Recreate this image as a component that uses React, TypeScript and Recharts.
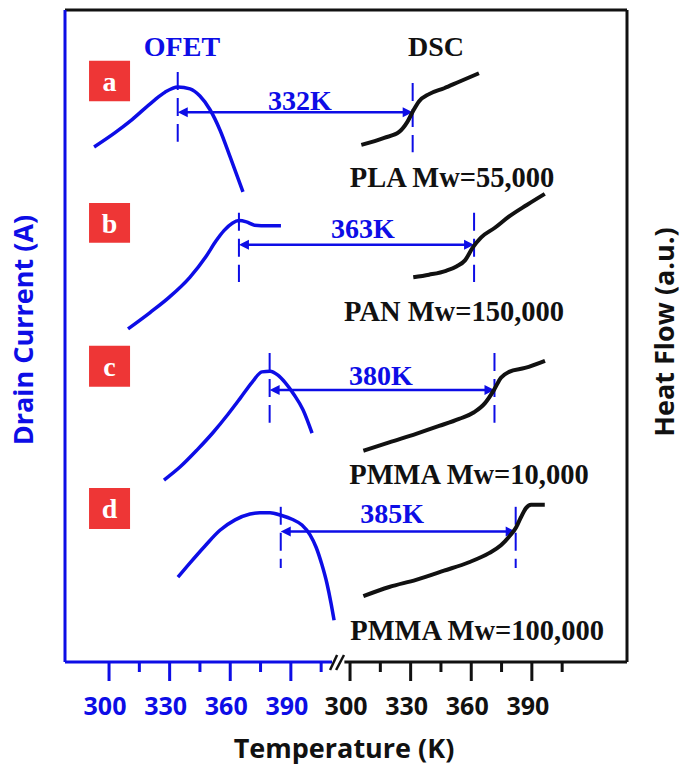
import React from 'react';
import {
  ComposedChart,
  Line,
  XAxis,
  YAxis,
  ReferenceLine,
  ReferenceArea,
  ReferenceDot,
} from 'recharts';

const BLUE = '#0d0de6';
const BLACK = '#111111';
const RED = '#ee3636';
const SERIF = '"Liberation Serif", "Times New Roman", serif';
const SANS = '"Open Sans", sans-serif';

// temperature axes (K); the DSC axis is the OFET axis moved past the break
const ofetDomain = [278.2, 556.4];
const AXIS_SHIFT = 119.3;
const dscDomain = [ofetDomain[0] - AXIS_SHIFT, ofetDomain[1] - AXIS_SHIFT];
const tempTicks = [300, 315, 330, 345, 360, 375, 390, 405];
const tempLabels = [300, 330, 360, 390];

// both y axes in arbitrary units (0..100), no labels
const currentTicks = [11, 20.4, 29.8, 39.2, 48.5, 57.9, 69, 79.8, 90.8];
const heatTicks = [7.9, 15.6, 23.4, 29.9, 37.6, 45.4, 53.1, 62.6, 70.5, 78.3, 86.1, 93.9];

// OFET drain current (left axis)
const ofetTempA = [292.6, 303.0, 311.4, 321.8, 327.7, 334.1, 340.1, 345.0, 350.0, 354.9, 359.9, 366.3];
const ofetCurA = [79.0, 81.2, 83.2, 86.0, 87.4, 88.2, 87.9, 86.8, 84.7, 81.6, 77.5, 72.1];
const ofetTempB = [309.4, 320.3, 330.0, 340.0, 348.0, 353.0, 357.0, 361.0, 364.3, 368.0, 372.0, 378.7, 385.1];
const ofetCurB = [51.1, 53.6, 56.0, 59.0, 62.2, 64.6, 66.2, 67.3, 67.7, 67.5, 67.0, 66.9, 66.9];
const ofetTempC = [327.2, 335.1, 343.5, 351.5, 358.9, 364.8, 370.8, 375.7, 379.7, 383.6, 387.1, 391.6, 396.0, 400.5];
const ofetCurC = [27.9, 29.9, 32.5, 35.2, 38.0, 40.4, 42.9, 44.5, 44.6, 44.0, 42.9, 41.0, 38.7, 35.1];
const ofetTempD = [334.1, 340.1, 347.5, 354.9, 362.4, 369.8, 374.7, 379.7, 385.1, 390.6, 395.5, 399.5, 402.5, 405.4, 407.9, 409.9, 411.4];
const ofetCurD = [13.0, 15.2, 17.8, 20.2, 21.8, 22.7, 22.9, 22.9, 22.5, 21.9, 21.0, 19.5, 17.6, 14.9, 12.0, 9.0, 6.4];

// DSC heat flow (right axis)
const dscTempA = [305.6, 316.9, 324.3, 328.3, 331.2, 334.2, 339.1, 346.6, 354.0, 363.8];
const dscHeatA = [79.3, 80.4, 81.3, 82.8, 84.5, 86.0, 87.1, 88.0, 89.0, 90.3];
const dscTempB = [331.3, 339.1, 347.5, 352.9, 356.9, 360.8, 364.8, 371.7, 378.6, 387.5, 396.4];
const dscHeatB = [59.0, 59.4, 60.0, 60.7, 61.6, 63.6, 65.1, 66.6, 68.3, 70.1, 71.8];
const dscTempC = [306.6, 319.4, 332.7, 344.1, 354.0, 361.4, 366.8, 371.2, 374.7, 378.7, 386.6, 396.5];
const dscHeatC = [32.4, 33.7, 35.0, 36.2, 37.3, 38.3, 39.7, 41.7, 43.6, 44.5, 45.1, 46.2];
const dscTempD = [306.6, 319.4, 332.7, 346.5, 358.9, 368.8, 374.7, 378.7, 382.1, 384.6, 387.1, 389.6, 396.4];
const dscHeatD = [10.1, 11.5, 12.6, 14.0, 15.3, 16.7, 17.9, 19.2, 20.6, 22.2, 23.6, 24.1, 24.1];

const panelLetters = ['a', 'b', 'c', 'd'];
const polymers = ['PLA Mw=55,000', 'PAN Mw=150,000', 'PMMA Mw=10,000', 'PMMA Mw=100,000'];
const tgLabels = ['332K', '363K', '380K', '385K'];
const ofetPeakT = [334.0, 364.3, 379.5, 385.0];
const dscTgT = [331.0, 361.4, 371.5, 382.0];

const zip = (t: number[], v: number[]) => t.map((x, i) => ({ t: x, v: v[i] }));
const ofetSeries = [
  zip(ofetTempA, ofetCurA),
  zip(ofetTempB, ofetCurB),
  zip(ofetTempC, ofetCurC),
  zip(ofetTempD, ofetCurD),
];
const dscSeries = [
  zip(dscTempA, dscHeatA),
  zip(dscTempB, dscHeatB),
  zip(dscTempC, dscHeatC),
  zip(dscTempD, dscHeatD),
];

// where the annotations of each panel sit (axis units)
const place = [
  { arrowY: 84.3, ofetDash: [90.5, 79.8], dscDash: [88.8, 78.2], tg: [394.5, 86.2], poly: [350.5, 74.4], box: [92.2, 86.0] },
  { arrowY: 64.0, ofetDash: [68.9, 58.3], dscDash: [68.9, 58.3], tg: [425.7, 66.6], poly: [351.5, 53.8], box: [70.4, 64.3] },
  { arrowY: 41.7, ofetDash: [47.4, 36.7], dscDash: [47.4, 36.7], tg: [434.6, 44.0], poly: [358.9, 28.8], box: [48.5, 42.2] },
  { arrowY: 20.0, ofetDash: [23.8, 14.4], dscDash: [23.8, 14.4], tg: [440.1, 22.9], poly: [362.9, 4.9], box: [26.7, 20.4] },
];

const makeTick = (color: string, shiftY: number) => (p: any) => {
  const v = p.payload.value;
  const major = tempLabels.includes(v);
  const y = p.y + shiftY;
  return (
    <g>
      <line x1={p.x} y1={y} x2={p.x} y2={y + (major ? 19 : 10)} stroke={color} strokeWidth={3} />
      {major && (
        <text x={p.x - 4} y={y + 53} textAnchor="middle" fill={color} fontFamily={SANS} fontWeight={700} fontSize={25}>
          {v}
        </text>
      )}
    </g>
  );
};

const DoubleArrow = (p: any) => {
  const { x1, y1, x2, y2 } = p;
  const h = 10;
  const w = 5;
  return (
    <g>
      <line x1={x1 + h - 1} y1={y1} x2={x2 - h + 1} y2={y2} stroke={BLUE} strokeWidth={2.5} />
      <polygon points={`${x1},${y1} ${x1 + h},${y1 - w} ${x1 + h},${y1 + w}`} fill={BLUE} />
      <polygon points={`${x2},${y2} ${x2 - h},${y2 - w} ${x2 - h},${y2 + w}`} fill={BLUE} />
    </g>
  );
};

const serifLabel = (value: string, fill: string, size = 28) => ({
  value,
  position: 'center' as const,
  fill,
  fontFamily: SERIF,
  fontWeight: 700,
  fontSize: size,
});

export default function App() {
  return (
    <div style={{ position: 'absolute', left: 0, top: 0, background: '#fff' }}>
      <ComposedChart width={685} height={774} margin={{ top: 10, right: 58, bottom: 0, left: 65 }}>
        <XAxis
          xAxisId="ofet"
          type="number"
          dataKey="t"
          domain={ofetDomain}
          allowDataOverflow
          ticks={tempTicks}
          interval={0}
          height={111}
          axisLine={false}
          tickLine={false}
          tickSize={0}
          tickMargin={0}
          tick={makeTick(BLUE, -1)}
          label={{
            value: 'Temperature (K)',
            position: 'insideBottom',
            offset: 16,
            dx: -2,
            fill: BLACK,
            fontFamily: SANS,
            fontWeight: 700,
            fontSize: 27,
          }}
        />
        <XAxis
          xAxisId="dsc"
          type="number"
          dataKey="t"
          domain={dscDomain}
          allowDataOverflow
          ticks={tempTicks}
          interval={0}
          height={1}
          axisLine={false}
          tickLine={false}
          tickSize={0}
          tickMargin={0}
          tick={makeTick(BLACK, 0)}
        />
        <YAxis
          yAxisId="L"
          orientation="left"
          mirror
          width={2}
          type="number"
          domain={[0, 100]}
          allowDataOverflow
          ticks={currentTicks}
          interval={0}
          tick={false}
          tickSize={10}
          axisLine={{ stroke: BLUE, strokeWidth: 3 }}
          tickLine={{ stroke: BLUE, strokeWidth: 3 }}
          label={{
            value: 'Drain Current (A)',
            angle: -90,
            position: 'center',
            dx: -43,
            dy: -6,
            fill: BLUE,
            fontFamily: SANS,
            fontWeight: 700,
            fontSize: 27,
          }}
        />
        <YAxis
          yAxisId="R"
          orientation="right"
          mirror
          width={2}
          type="number"
          domain={[0, 100]}
          allowDataOverflow
          ticks={heatTicks}
          interval={0}
          tick={false}
          tickSize={10}
          axisLine={{ stroke: BLACK, strokeWidth: 3 }}
          tickLine={{ stroke: BLACK, strokeWidth: 3 }}
          label={{
            value: 'Heat Flow (a.u.)',
            angle: -90,
            position: 'center',
            dx: 38,
            dy: -4,
            fill: BLACK,
            fontFamily: SANS,
            fontWeight: 700,
            fontSize: 27,
          }}
        />

        {/* frame: top border, split bottom axis and break mark */}
        <ReferenceLine xAxisId="dsc" yAxisId="R" y={100} stroke={BLACK} strokeWidth={3} />
        <ReferenceLine
          xAxisId="ofet"
          yAxisId="L"
          segment={[{ x: ofetDomain[0], y: 0 }, { x: 410.4, y: 0 }]}
          stroke={BLUE}
          strokeWidth={3}
          ifOverflow="visible"
        />
        <ReferenceLine
          xAxisId="dsc"
          yAxisId="R"
          segment={[{ x: 297.2, y: 0 }, { x: dscDomain[1], y: 0 }]}
          stroke={BLACK}
          strokeWidth={3}
          ifOverflow="visible"
        />
        <ReferenceLine
          xAxisId="ofet"
          yAxisId="L"
          segment={[{ x: 409.4, y: -1.23 }, { x: 412.9, y: 1.07 }]}
          stroke={BLACK}
          strokeWidth={2.5}
          ifOverflow="visible"
        />
        <ReferenceLine
          xAxisId="ofet"
          yAxisId="L"
          segment={[{ x: 412.4, y: -1.23 }, { x: 416.3, y: 1.07 }]}
          stroke={BLACK}
          strokeWidth={2.5}
          ifOverflow="visible"
        />

        <ReferenceDot xAxisId="ofet" yAxisId="L" x={336.1} y={94.5} r={0} fill="none" stroke="none" ifOverflow="visible" label={serifLabel('OFET', BLUE)} />
        <ReferenceDot xAxisId="dsc" yAxisId="R" x={342.6} y={94.5} r={0} fill="none" stroke="none" ifOverflow="visible" label={serifLabel('DSC', BLACK)} />

        {panelLetters.map((letter, i) => (
          <ReferenceArea
            key={`box-${letter}`}
            xAxisId="ofet"
            yAxisId="L"
            x1={290.1}
            x2={310.4}
            y1={place[i].box[1]}
            y2={place[i].box[0]}
            fill={RED}
            fillOpacity={1}
            stroke="none"
            label={serifLabel(letter, '#ffffff')}
          />
        ))}

        {panelLetters.map((letter, i) => (
          <ReferenceLine
            key={`od-${letter}`}
            xAxisId="ofet"
            yAxisId="L"
            segment={[{ x: ofetPeakT[i], y: place[i].ofetDash[0] }, { x: ofetPeakT[i], y: place[i].ofetDash[1] }]}
            stroke={BLUE}
            strokeWidth={2}
            strokeDasharray="18 8"
          />
        ))}
        {panelLetters.map((letter, i) => (
          <ReferenceLine
            key={`dd-${letter}`}
            xAxisId="dsc"
            yAxisId="R"
            segment={[{ x: dscTgT[i], y: place[i].dscDash[0] }, { x: dscTgT[i], y: place[i].dscDash[1] }]}
            stroke={BLUE}
            strokeWidth={2}
            strokeDasharray="18 8"
          />
        ))}
        {panelLetters.map((letter, i) => (
          <ReferenceLine
            key={`ar-${letter}`}
            xAxisId="ofet"
            yAxisId="L"
            segment={[{ x: ofetPeakT[i], y: place[i].arrowY }, { x: dscTgT[i] + AXIS_SHIFT, y: place[i].arrowY }]}
            shape={DoubleArrow}
          />
        ))}
        {panelLetters.map((letter, i) => (
          <ReferenceDot
            key={`tg-${letter}`}
            xAxisId="ofet"
            yAxisId="L"
            x={place[i].tg[0]}
            y={place[i].tg[1]}
            r={0}
            fill="none"
            stroke="none"
            label={serifLabel(tgLabels[i], BLUE)}
          />
        ))}
        {panelLetters.map((letter, i) => (
          <ReferenceDot
            key={`poly-${letter}`}
            xAxisId="dsc"
            yAxisId="R"
            x={place[i].poly[0]}
            y={place[i].poly[1]}
            r={0}
            fill="none"
            stroke="none"
            ifOverflow="visible"
            label={serifLabel(polymers[i], BLACK, 28.5)}
          />
        ))}

        {ofetSeries.map((data, i) => (
          <Line
            key={`ofet-${i}`}
            xAxisId="ofet"
            yAxisId="L"
            data={data}
            dataKey="v"
            type="monotone"
            stroke={BLUE}
            strokeWidth={3.5}
            dot={false}
            isAnimationActive={false}
          />
        ))}
        {dscSeries.map((data, i) => (
          <Line
            key={`dsc-${i}`}
            xAxisId="dsc"
            yAxisId="R"
            data={data}
            dataKey="v"
            type="monotone"
            stroke={BLACK}
            strokeWidth={4}
            dot={false}
            isAnimationActive={false}
          />
        ))}
      </ComposedChart>
    </div>
  );
}
